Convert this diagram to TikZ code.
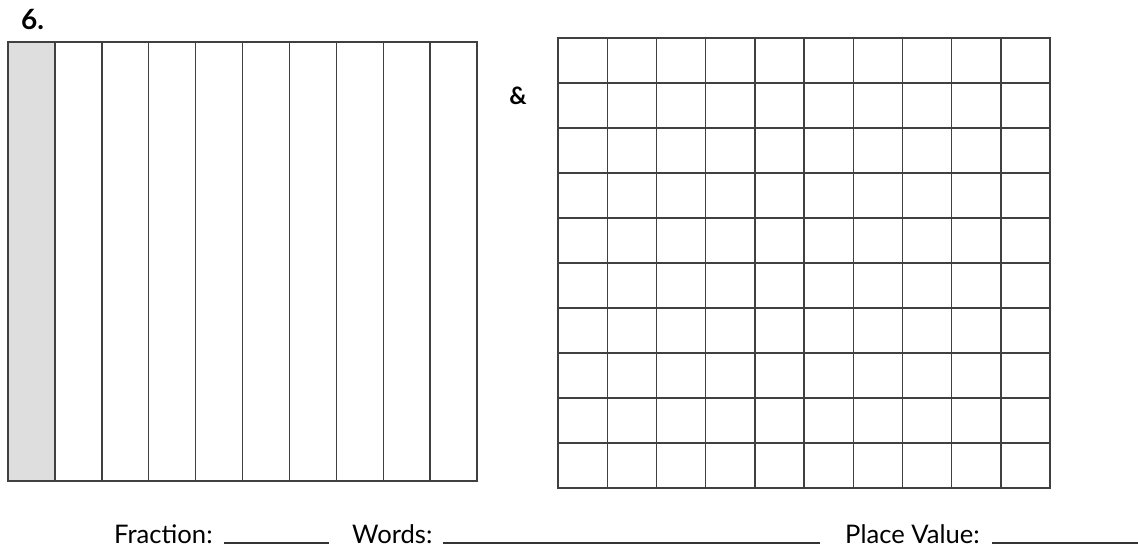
\documentclass[tikz,border=0pt]{standalone}
\usepackage{fontspec}
\setmainfont{Lato}
\usepackage{tikz}

\begin{document}
\begin{tikzpicture}[x=1pt,y=-1pt,
    gridline/.style={line width=1.4pt,black!75},
    blank/.style={line width=1.6pt,black!80},
    label/.style={font=\fontsize{25.6}{30}\selectfont,anchor=base west,inner sep=0pt}]

\useasboundingbox (0,0) rectangle (1138,550);

% Number
\node[label,font=\fontsize{28}{32}\selectfont\bfseries] (num) at (21,29) {6.};

% Tenths square
\fill[black!13] (8,42) rectangle (54.9,481);
\foreach \i in {1,...,9}{
    \draw[gridline] ({8+46.9*\i},42) -- ({8+46.9*\i},481);
}
\draw[gridline] (8,42) rectangle (477,481);

\node[font=\fontsize{24}{28}\selectfont\bfseries,inner sep=0pt] (amp) at (518,96) {\&};

% Hundredths grid
\foreach \i in {1,...,9}{
    \draw[gridline] ({558+49.2*\i},38) -- ({558+49.2*\i},488);
    \draw[gridline] (558,{38+45*\i}) -- (1050,{38+45*\i});
}
\draw[gridline] (558,38) rectangle (1050,488);

% Answer line
\node[label] (frac) at (114,543) {Fraction:};
\coordinate (fracA) at (224,543);
\coordinate (fracB) at (329,543);
\draw[blank] (fracA) -- (fracB);

\node[label] (words) at (352,543) {Words:};
\coordinate (wordsA) at (443,543);
\coordinate (wordsB) at (820,543);
\draw[blank] (wordsA) -- (wordsB);

\node[label] (place) at (845,543) {Place Value:};
\coordinate (placeA) at (992,543);
\coordinate (placeB) at (1138,543);
\draw[blank] (placeA) -- (placeB);

\end{tikzpicture}
\end{document}
